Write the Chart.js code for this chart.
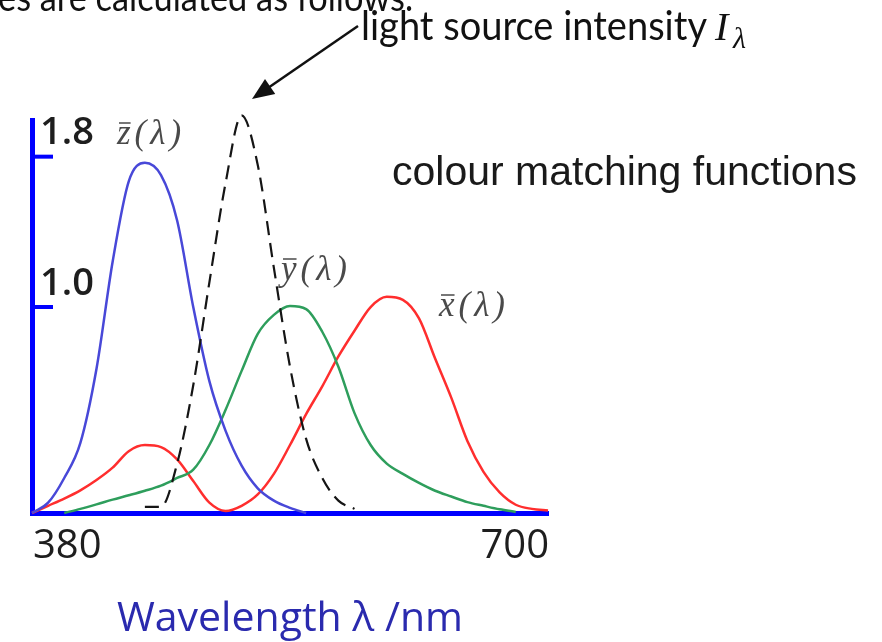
<!DOCTYPE html>
<html>
<head>
<meta charset="utf-8">
<script src="https://cdn.jsdelivr.net/npm/chart.js@4.4.0/dist/chart.umd.min.js"></script>
<style>
  html, body { margin: 0; padding: 0; background: #fff; }
  #wrap { position: relative; width: 882px; height: 642px; }
</style>
</head>
<body>
<div id="wrap"><canvas id="cmfChart"></canvas></div>
<script>
// ─── DATA ─────────────────────────────────────────────────────────────────────

const wavelengths = [380, 390, 400, 410, 420, 430, 440, 450, 460, 470, 480,
                     490, 500, 510, 520, 530, 540, 550, 560, 570, 580, 590,
                     600, 610, 620, 630, 640, 650, 660, 670, 680, 690, 700];

// z-bar (blue)
const zBar = [0, 0.05, 0.17, 0.34, 0.70, 1.22, 1.61, 1.70, 1.64, 1.42, 1.00,
              0.64, 0.40, 0.23, 0.12, 0.06, 0.025, 0, null, null, null, null,
              null, null, null, null, null, null, null, null, null, null, null];

// y-bar (green)
const yBar = [null, null, 0, 0.02, 0.042, 0.065, 0.086, 0.108, 0.133, 0.17, 0.21,
              0.33, 0.50, 0.69, 0.87, 0.962, 1.005, 0.99, 0.88, 0.71, 0.485, 0.33,
              0.24, 0.19, 0.146, 0.108, 0.08, 0.053, 0.035, 0.018, 0.005, null, null];

// x-bar (red)
const xBar = [0, 0.035, 0.07, 0.11, 0.16, 0.22, 0.30, 0.33, 0.32, 0.26, 0.155,
              0.05, 0.01, 0.035, 0.09, 0.19, 0.33, 0.48, 0.615, 0.76, 0.885, 1.00,
              1.05, 1.035, 0.945, 0.75, 0.56, 0.35, 0.20, 0.10, 0.04, 0.02, 0.012];

// light source intensity (dashed)
const lightSource = [null, null, null, null, null, null, null, 0.03, 0.03, 0.24, 0.62,
                     1.12, 1.60, 1.93, 1.69, 1.19, 0.71, 0.36, 0.17, 0.06, 0.02, null,
                     null, null, null, null, null, null, null, null, null, null, null];

const xTickValues = [380, 700];
const yTickValues = [1.0, 1.73];
const yTickLabels = ['1.0', '1.8'];

const AXIS_BLUE = '#0000ff';

function toPoints(arr) {
  return wavelengths.map((w, i) => ({ x: w, y: arr[i] }));
}

// ─── EXTRA DRAWING (labels, arrow, inward ticks) ──────────────────────────────

function drawBarLabel(ctx, ch, rest, x, y) {
  ctx.save();
  ctx.font = 'italic 35px "Liberation Serif", serif';
  ctx.fillStyle = '#4a4a4a';
  ctx.textBaseline = 'alphabetic';
  ctx.letterSpacing = '4px';
  ctx.fillText(ch + rest, x, y);
  const w = ctx.measureText(ch).width;
  ctx.strokeStyle = '#4a4a4a';
  ctx.lineWidth = 1.5;
  ctx.beginPath();
  ctx.moveTo(x + 2, y - 21);
  ctx.lineTo(x + w - 4, y - 21);
  ctx.stroke();
  ctx.restore();
}

const decorPlugin = {
  id: 'decor',
  afterDraw(chart) {
    const ctx = chart.ctx;
    const yScale = chart.scales.y;
    const left = chart.chartArea.left;

    // inward tick marks on y axis
    ctx.save();
    ctx.strokeStyle = AXIS_BLUE;
    ctx.lineWidth = 4;
    yTickValues.forEach(v => {
      const py = yScale.getPixelForValue(v);
      ctx.beginPath();
      ctx.moveTo(left, py);
      ctx.lineTo(left + 21, py);
      ctx.stroke();
    });
    ctx.restore();

    // curve labels
    drawBarLabel(ctx, 'z', '(λ)', 117, 144);
    drawBarLabel(ctx, 'y', '(λ)', 281, 280);
    drawBarLabel(ctx, 'x', '(λ)', 439, 316);

    ctx.save();
    // cut-off line of text at the top
    ctx.fillStyle = '#111';
    ctx.font = '38px Lato, "Open Sans", sans-serif';
    ctx.textBaseline = 'alphabetic';
    ctx.fillText('es are calculated as follows.', -2, 11, 415);

    // light source label
    ctx.font = '40px Lato, "Open Sans", sans-serif';
    ctx.fillText('light source intensity', 361, 40, 346);
    ctx.font = 'italic 40px "Liberation Serif", serif';
    ctx.fillText('I', 715, 40);
    ctx.font = 'italic 30px "Liberation Serif", serif';
    ctx.fillText('λ', 733, 48);

    // colour matching functions
    ctx.font = '41px "Liberation Sans", Arial, sans-serif';
    ctx.fillStyle = '#1a1a1a';
    ctx.fillText('colour matching functions', 392, 185);

    // arrow
    const tail = [358, 26], tip = [252, 99];
    const ang = Math.atan2(tip[1] - tail[1], tip[0] - tail[0]);
    ctx.strokeStyle = '#111';
    ctx.fillStyle = '#111';
    ctx.lineWidth = 2.5;
    ctx.beginPath();
    ctx.moveTo(tail[0], tail[1]);
    ctx.lineTo(tip[0] - 15 * Math.cos(ang), tip[1] - 15 * Math.sin(ang));
    ctx.stroke();
    ctx.beginPath();
    ctx.moveTo(tip[0], tip[1]);
    ctx.lineTo(tip[0] - 22 * Math.cos(ang) + 9 * Math.sin(ang), tip[1] - 22 * Math.sin(ang) - 9 * Math.cos(ang));
    ctx.lineTo(tip[0] - 22 * Math.cos(ang) - 9 * Math.sin(ang), tip[1] - 22 * Math.sin(ang) + 9 * Math.cos(ang));
    ctx.closePath();
    ctx.fill();
    ctx.restore();
  }
};

// ─── CHART ────────────────────────────────────────────────────────────────────

const lineDefaults = {
  pointRadius: 0,
  borderWidth: 2.5,
  cubicInterpolationMode: 'monotone',
  fill: false,
  clip: false,
};

function buildChart() {
  new Chart(document.getElementById('cmfChart'), {
    type: 'line',
    data: {
      datasets: [
        { ...lineDefaults, label: 'light source', data: toPoints(lightSource),
          borderColor: '#151515', borderWidth: 2.2, borderDash: [14, 8] },
        { ...lineDefaults, label: 'z', data: toPoints(zBar), borderColor: '#4848d8' },
        { ...lineDefaults, label: 'y', data: toPoints(yBar), borderColor: '#2e9e5c' },
        { ...lineDefaults, label: 'x', data: toPoints(xBar), borderColor: '#ff2e2e' },
      ]
    },
    options: {
      responsive: true,
      maintainAspectRatio: false,
      animation: false,
      layout: { padding: { top: 120, right: 334, left: 0, bottom: 0 } },
      plugins: {
        legend: { display: false },
        tooltip: { enabled: false },
      },
      scales: {
        x: {
          type: 'linear',
          min: 380,
          max: 700,
          afterBuildTicks: s => { s.ticks = xTickValues.map(v => ({ value: v })); },
          afterFit: s => { s.height = 129; },
          grid: { drawOnChartArea: false, drawTicks: false, color: 'rgba(0,0,0,0)' },
          border: { display: true, color: AXIS_BLUE, width: 5 },
          ticks: {
            align: 'inner',
            padding: 10,
            labelOffset: 1,
            color: '#1e1e1e',
            font: { family: '"Open Sans", sans-serif', size: 40 },
            callback: v => String(v),
          },
          title: {
            display: true,
            text: 'Wavelength λ /nm',
            color: '#2a2aae',
            font: { family: '"Open Sans", sans-serif', size: 41 },
            padding: { top: 0, bottom: -2 },
          },
        },
        y: {
          type: 'linear',
          min: 0,
          max: 1.908,
          afterBuildTicks: s => { s.ticks = yTickValues.map(v => ({ value: v })); },
          afterFit: s => { s.width = 32; },
          grid: { drawOnChartArea: false, drawTicks: false, color: 'rgba(0,0,0,0)' },
          border: { display: true, color: AXIS_BLUE, width: 5 },
          ticks: {
            mirror: true,
            padding: 8,
            labelOffset: -23,
            color: '#1e1e1e',
            font: { family: '"Open Sans", sans-serif', size: 38, weight: '600' },
            callback: (v, i) => yTickLabels[i],
          },
        },
      },
    },
    plugins: [decorPlugin],
  });
}

Promise.all([
  document.fonts.load('38px "Open Sans"'),
  document.fonts.load('600 38px "Open Sans"'),
  document.fonts.load('40px Lato'),
  document.fonts.load('41px "Liberation Sans"'),
  document.fonts.load('italic 35px "Liberation Serif"'),
]).catch(() => {}).then(buildChart);
</script>
</body>
</html>
